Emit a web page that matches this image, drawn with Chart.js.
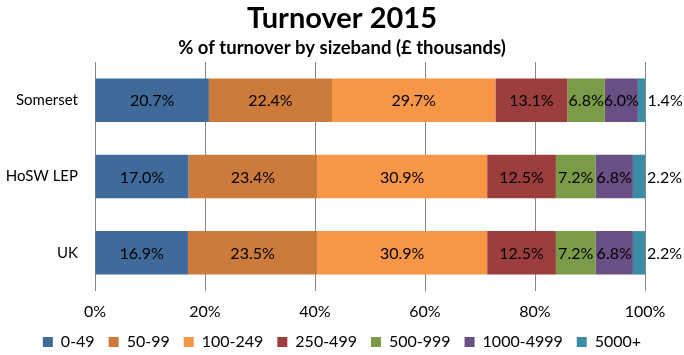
<!DOCTYPE html>
<html>
<head>
<meta charset="utf-8">
<script src="https://cdn.jsdelivr.net/npm/chart.js@4/dist/chart.umd.min.js"></script>
<style>
  html, body { margin: 0; padding: 0; background: #ffffff; }
  #wrap { width: 684px; height: 355px; position: relative; }
</style>
</head>
<body>
<div id="wrap"><canvas id="c"></canvas></div>
<script>
const categories = ["Somerset", "HoSW LEP", "UK"];
const bands = ["0-49", "50-99", "100-249", "250-499", "500-999", "1000-4999", "5000+"];
const v0_49      = [20.7, 17.0, 16.9];
const v50_99     = [22.4, 23.4, 23.5];
const v100_249   = [29.7, 30.9, 30.9];
const v250_499   = [13.1, 12.5, 12.5];
const v500_999   = [6.8, 7.2, 7.2];
const v1000_4999 = [6.0, 6.8, 6.8];
const v5000plus  = [1.4, 2.2, 2.2];
const xTicks = [0, 20, 40, 60, 80, 100];

const seriesValues = [v0_49, v50_99, v100_249, v250_499, v500_999, v1000_4999, v5000plus];
const colors = ["#3F6A9A", "#CC7B3A", "#F69646", "#9B3E3D", "#7B9B48", "#684F84", "#3A8DA4"];

const FONT = "Lato, 'Liberation Sans', sans-serif";

const labelPlugin = {
  id: 'barLabels',
  afterDatasetsDraw(chart) {
    const ctx = chart.ctx;
    ctx.save();
    ctx.font = "16px " + FONT;
    ctx.fillStyle = "#000";
    ctx.textBaseline = "middle";
    chart.data.datasets.forEach((ds, di) => {
      const meta = chart.getDatasetMeta(di);
      meta.data.forEach((bar, i) => {
        const txt = ds.data[i].toFixed(1) + "%";
        if (di === chart.data.datasets.length - 1) {
          ctx.textAlign = "left";
          ctx.fillText(txt, bar.x + 2, bar.y + 1);
        } else {
          ctx.textAlign = "center";
          ctx.fillText(txt, (bar.x + bar.base) / 2, bar.y + 1);
        }
      });
    });
    ctx.restore();
  }
};

new Chart(document.getElementById('c'), {
  type: 'bar',
  data: {
    labels: categories,
    datasets: bands.map((b, k) => ({
      label: b,
      data: seriesValues[k],
      backgroundColor: colors[k],
      borderWidth: 0,
      barPercentage: 0.57,
      categoryPercentage: 1.0
    }))
  },
  options: {
    indexAxis: 'y',
    responsive: true,
    maintainAspectRatio: false,
    animation: false,
    layout: { padding: { left: 0, right: 0, top: 0, bottom: -5 } },
    scales: {
      x: {
        stacked: true,
        min: 0, max: 100,
        afterBuildTicks(axis) { axis.ticks = xTicks.map(v => ({ value: v })); },
        afterFit(axis) { axis.height = 29; axis.paddingRight = 39; },
        grid: { color: "#868686", lineWidth: 1, drawTicks: false },
        border: { display: false },
        ticks: {
          padding: 11,
          color: "#000",
          font: { family: FONT, size: 16 },
          callback: v => v + "%"
        }
      },
      y: {
        stacked: true,
        afterFit(axis) { axis.width = 95; },
        grid: { display: false, drawTicks: false },
        border: { display: false },
        ticks: {
          padding: 17,
          color: "#000",
          font: { family: FONT, size: 15 }
        }
      }
    },
    plugins: {
      title: {
        display: true,
        text: "Turnover 2015",
        color: "#000",
        font: { family: FONT, size: 29, weight: 'bold' },
        padding: { top: 1, bottom: 1 }
      },
      subtitle: {
        display: true,
        text: "% of turnover by sizeband (£ thousands)",
        color: "#000",
        font: { family: FONT, size: 18.5, weight: 'bold' },
        padding: { top: 0, bottom: 3 }
      },
      legend: {
        position: 'bottom',
        labels: {
          boxWidth: 10,
          boxHeight: 10,
          padding: 14,
          color: "#000",
          font: { family: FONT, size: 16 }
        }
      },
      tooltip: { enabled: false }
    }
  },
  plugins: [labelPlugin]
});
</script>
</body>
</html>
